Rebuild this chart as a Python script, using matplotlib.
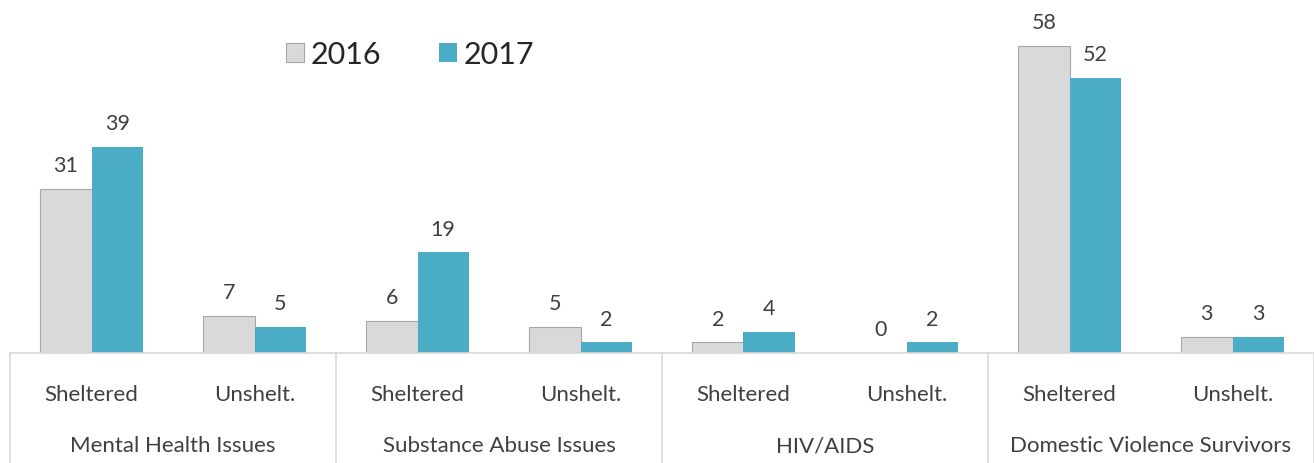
import matplotlib
matplotlib.use("Agg")
import matplotlib.pyplot as plt
import numpy as np

plt.rcParams['font.family'] = ['Lato', 'DejaVu Sans']

categories = ["Sheltered", "Unshelt.", "Sheltered", "Unshelt.",
              "Sheltered", "Unshelt.", "Sheltered", "Unshelt."]
groups = ["Mental Health Issues", "Substance Abuse Issues", "HIV/AIDS",
          "Domestic Violence Survivors"]
series_names = ["2016", "2017"]
values_2016 = [31, 7, 6, 5, 2, 0, 58, 3]
values_2017 = [39, 5, 19, 2, 4, 2, 52, 3]

gray = "#D9D9D9"
teal = "#4BACC6"
text_col = "#404040"
line_col = "#D9D9D9"

fig = plt.figure(figsize=(13.14, 4.64), dpi=100)
ax = fig.add_axes([10 / 1314, 110 / 464, 1 - 10 / 1314, 354 / 464])

x = np.arange(len(categories))
w = 0.315
b1 = ax.bar(x - w / 2, values_2016, w, color=gray, edgecolor="#A6A6A6",
            linewidth=0.8, label=series_names[0])
b2 = ax.bar(x + w / 2, values_2017, w, color=teal, linewidth=0,
            label=series_names[1])

for bars, vals in ((b1, values_2016), (b2, values_2017)):
    for rect, v in zip(bars, vals):
        ax.annotate(str(v), (rect.get_x() + rect.get_width() / 2, v),
                    xytext=(0, 10), textcoords="offset points",
                    ha="center", va="bottom", fontsize=15.5, color=text_col)

ax.set_xlim(-0.5, len(categories) - 0.5)
ax.set_ylim(0, 66.9)
for s in ax.spines.values():
    s.set_visible(False)
ax.set_yticks([])
ax.set_xticks([])

# baseline and group separators below the axis
ax.axhline(0, color=line_col, linewidth=1.2, clip_on=False)
trans = ax.get_xaxis_transform()
for xs in np.arange(-0.5, len(categories), 2):
    ax.plot([xs, xs], [0, -0.32], color=line_col, linewidth=1.2,
            transform=trans, clip_on=False)

for i, c in enumerate(categories):
    ax.text(i, -0.115, c, transform=trans, ha="center", va="center",
            fontsize=16, color=text_col)
for g, name in enumerate(groups):
    ax.text(2 * g + 0.5, -0.26, name, transform=trans, ha="center",
            va="center", fontsize=16, color=text_col)

ax.legend(loc="center", bbox_to_anchor=(400 / 1304, 1 - 55 / 354), ncol=2,
          frameon=False, fontsize=22, handlelength=0.6, handleheight=0.6,
          handletextpad=0.2, columnspacing=1.9, labelcolor="#262626")

fig.savefig("out.png", dpi=100)
